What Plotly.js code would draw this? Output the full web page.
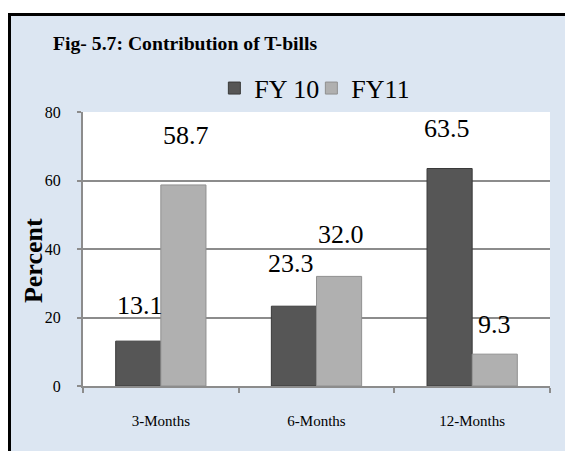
<!DOCTYPE html>
<html>
<head>
<meta charset="utf-8">
<script src="https://cdn.plot.ly/plotly-3.0.1.min.js"></script>
<style>
  html, body { margin: 0; padding: 0; background: #ffffff; width: 565px; height: 451px; overflow: hidden; }
  #frame { position: absolute; left: 8px; top: 13px; width: 557px; height: 438px;
           border-left: 3px solid #000; border-top: 3px solid #000; box-sizing: border-box; }
  #chart { position: absolute; left: 0; top: 0; width: 554px; height: 435px; }
</style>
</head>
<body>
<div id="frame"><div id="chart"></div></div>
<script>
// ---- data ----
var categories = ["3-Months", "6-Months", "12-Months"];
var fy10 = [13.1, 23.3, 63.5];
var fy11 = [58.7, 32.0, 9.3];
var seriesNames = ["FY 10", "FY11"];
var yTicks = [0, 20, 40, 60, 80];

// ---- style ----
var serif = "Times New Roman, Liberation Serif, serif";
var colors = ["#565656", "#b0b0b0"];
var edgeColors = ["#3a3a3a", "#909090"];
var barOffsetPx = 22.5;
var labelYShift = [[36, 49], [43, 42], [40, 30]];
var labelXShift = [[2, 3], [-3, 2], [-3, 0]];

var series = [fy10, fy11];
var traces = series.map(function (vals, s) {
  return {
    type: "bar",
    name: seriesNames[s],
    x: categories,
    y: vals,
    marker: { color: colors[s], line: { color: edgeColors[s], width: 1 } },
    hoverinfo: "skip"
  };
});

var annotations = [];
series.forEach(function (vals, s) {
  vals.forEach(function (v, i) {
    annotations.push({
      x: categories[i], y: v, xref: "x", yref: "y",
      text: v.toFixed(1), showarrow: false,
      xanchor: "center", yanchor: "middle",
      xshift: (s === 0 ? -barOffsetPx : barOffsetPx) + labelXShift[i][s],
      yshift: labelYShift[i][s],
      font: { family: serif, size: 26, color: "#000" }
    });
  });
});
annotations.push({
  text: "<b>Percent</b>", textangle: -90, showarrow: false,
  xref: "paper", yref: "paper", x: -0.107, y: 0.456,
  xanchor: "center", yanchor: "middle",
  font: { family: serif, size: 26, color: "#000" }
});

var layout = {
  width: 554, height: 435,
  margin: { l: 72, r: 15, t: 96, b: 65 },
  paper_bgcolor: "#dce6f2",
  plot_bgcolor: "#ffffff",
  font: { family: serif, color: "#000" },
  barmode: "group",
  bargap: 0.42,
  bargroupgap: 0,
  showlegend: true,
  title: {
    text: "<b>Fig- 5.7: Contribution of T-bills</b>",
    xref: "container", yref: "container",
    x: 0.0758, y: 0.938, xanchor: "left", yanchor: "middle",
    font: { family: serif, size: 19.7, color: "#000" }
  },
  legend: {
    orientation: "h", x: 0.489, xanchor: "center", y: 1.087, yanchor: "middle",
    font: { family: serif, size: 26, color: "#000" },
    bgcolor: "rgba(0,0,0,0)", itemwidth: 30, traceorder: "normal",
    entrywidth: 52, entrywidthmode: "pixels"
  },
  xaxis: {
    type: "category",
    showline: true, linecolor: "#8c8c8c", linewidth: 2,
    ticks: "outside", tickson: "boundaries", ticklen: 5, tickcolor: "#8c8c8c", tickwidth: 2,
    ticklabelstandoff: 20,
    tickfont: { family: serif, size: 15, color: "#000" },
    showgrid: false, fixedrange: true
  },
  yaxis: {
    range: [0, 80], tickvals: yTicks, ticktext: yTicks.map(String),
    showline: true, linecolor: "#8c8c8c", linewidth: 2,
    ticks: "outside", ticklen: 4, tickcolor: "#8c8c8c", tickwidth: 2,
    ticklabelstandoff: 13,
    showgrid: true, gridcolor: "#8c8c8c", gridwidth: 2,
    zeroline: false,
    tickfont: { family: serif, size: 16, color: "#000" },
    fixedrange: true
  },
  annotations: annotations
};

Plotly.newPlot("chart", traces, layout, { displayModeBar: false, staticPlot: true });
</script>
</body>
</html>
